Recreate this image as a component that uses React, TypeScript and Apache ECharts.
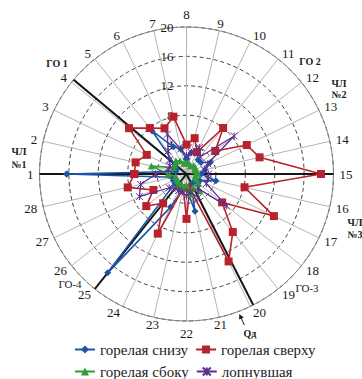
import React, { useEffect, useRef } from 'react';
import * as echarts from 'echarts';

const categories = ['1','2','3','4','5','6','7','8','9','10','11','12','13','14','15','16','17','18','19','20','21','22','23','24','25','26','27','28'];
const radiusMax = 20;
const radiusStep = 4;

const seriesNames = ['горелая снизу', 'горелая сверху', 'горелая сбоку', 'лопнувшая'];
const bottomBurner = [16.3, 1.5, 1.5, 2.0, 7.5, 4.1, 3.5, 2.0, 3.0, 3.3, 2.5, 2.5, 3.6, 2.6, 2.0, 4.1, 2.0, 2.0, 1.5, 1.5, 5.2, 2.0, 2.0, 5.0, 17.2, 2.0, 2.0, 2.0];
const topBurner = [7.1, 7.1, 6.0, 10.0, 8.0, 6.9, 8.0, 4.0, 5.0, 3.3, 8.0, 5.0, 9.1, 10.2, 18.3, 8.1, 13.2, 6.2, 10.1, 13.2, 2.0, 6.1, 2.0, 9.0, 5.1, 7.0, 5.0, 8.2];
const sideBurner = [2.5, 4.9, 2.0, 2.0, 2.3, 2.0, 1.5, 1.5, 1.5, 1.2, 1.5, 1.5, 1.2, 1.5, 1.5, 1.2, 1.5, 2.0, 2.9, 2.0, 2.8, 1.5, 2.0, 1.5, 2.0, 1.5, 1.5, 1.5];
const burst = [4.2, 2.5, 2.5, 3.0, 4.0, 6.0, 3.5, 2.5, 3.0, 4.0, 3.0, 8.3, 3.2, 2.5, 3.0, 3.0, 3.0, 7.0, 2.5, 3.6, 2.5, 3.0, 2.5, 2.5, 2.5, 3.0, 7.1, 6.4];

// reference lines: position on the category circle and length in radius units
const refLinePositions = [4.1, 25.0, 19.9];
const refLineLengths = [26.7, 24.6, 23.1];
const axisLinePositions = [1, 15];
const axisLineLengths = [23.1, 21.3];

const colors = ['#1d55a5', '#b8222c', '#2f9e3a', '#5b2f92'];
const symbols = ['diamond', 'rect', 'triangle', 'path://M0 0L10 10M10 0L0 10M5 0L5 10'];
const symbolSizes = [7, 8, 7, 7];

const N = categories.length;
const toAngle = (pos: number) => (((pos - 8) % N) + N) % N;

const serif = 'Liberation Serif';

export default function App() {
  const ref = useRef<HTMLDivElement>(null);
  useEffect(() => {
    if (!ref.current) return;
    const chart = echarts.init(ref.current, null, { renderer: 'svg' });
    const seriesData = [bottomBurner, topBurner, sideBurner, burst];

    const dataSeries = seriesData.map((vals, si) => {
      const pts = vals.map((v, i) => [v, toAngle(i + 1)]);
      pts.push(pts[0]);
      return {
        name: seriesNames[si],
        type: 'line',
        coordinateSystem: 'polar',
        data: pts,
        symbol: symbols[si],
        symbolSize: symbolSizes[si],
        lineStyle: { color: colors[si], width: si === 3 ? 1.3 : 1.6 },
        itemStyle: si === 3
          ? { color: colors[si], borderColor: colors[si], borderWidth: 1 }
          : { color: colors[si] },
        z: 3 + si,
        silent: true,
        clip: false,
      };
    });

    const refSeries = refLinePositions.map((p, i) => ({
      type: 'line',
      coordinateSystem: 'polar',
      data: [[0, 0], [refLineLengths[i], toAngle(p)]],
      symbol: 'none',
      lineStyle: { color: '#151515', width: 2 },
      clip: false,
      silent: true,
      z: 2,
    }));
    const horizSeries = {
      type: 'line',
      coordinateSystem: 'polar',
      data: [[axisLineLengths[0], toAngle(axisLinePositions[0])], [0, 0], [axisLineLengths[1], toAngle(axisLinePositions[1])]],
      symbol: 'none',
      lineStyle: { color: '#151515', width: 2 },
      clip: false,
      silent: true,
      z: 2,
    };

    const txt = (text: string, x: number, y: number, size: number, bold = true) => ({
      type: 'text',
      x,
      y,
      z: 20,
      style: {
        text,
        fill: '#1a1a1a',
        font: `${bold ? 'bold ' : ''}${size}px 'Liberation Serif'`,
        textAlign: 'center',
        textVerticalAlign: 'middle',
      },
    });

    const legendBase = {
      left: 74,
      padding: 0,
      itemWidth: 20,
      itemHeight: 10,
      itemGap: 7,
      textStyle: { fontFamily: serif, fontSize: 15, color: '#1a1a1a' },
      selectedMode: false,
    };

    const labelFont = { fontFamily: serif, fontSize: 13, color: '#1a1a1a' };

    chart.setOption({
      animation: false,
      backgroundColor: '#ffffff',
      textStyle: { fontFamily: serif },
      polar: { center: [186.5, 174], radius: 147 },
      angleAxis: {
        type: 'value',
        min: 0,
        max: N,
        interval: 1,
        startAngle: 90,
        clockwise: true,
        axisLine: { show: true, lineStyle: { color: '#8a8a8a', width: 1 } },
        axisTick: { show: false },
        axisLabel: {
          margin: 6,
          ...labelFont,
          formatter: (v: number) => {
            if (v >= N) return '';
            const name = categories[(v + 7) % N];
            const s = Math.abs(Math.sin(((90 - (v * 360) / N) * Math.PI) / 180));
            return s >= 0.3 && s < 0.99 ? `{c|${name}}` : `{n|${name}}`;
          },
          rich: {
            c: { ...labelFont, lineHeight: 2 },
            n: { ...labelFont },
          },
        },
        splitLine: { show: true, lineStyle: { color: '#b4b4b4', width: 1 } },
      },
      radiusAxis: {
        type: 'value',
        min: 0,
        max: radiusMax,
        interval: radiusStep,
        axisLine: { show: true, lineStyle: { color: '#b4b4b4', width: 1 } },
        axisTick: { show: false },
        axisLabel: { margin: 13, ...labelFont },
        splitLine: { show: true, lineStyle: { color: '#2a2a2a', width: 0.9, type: [4, 3] } },
      },
      legend: [
        { ...legendBase, top: 342, data: [seriesNames[0], seriesNames[1]] },
        { ...legendBase, top: 364, data: [seriesNames[2], seriesNames[3]] },
      ],
      graphic: [
        txt('ГО 1', 57, 63, 10),
        txt('ГО 2', 310, 61, 10),
        txt('ЧЛ', 339, 83, 10),
        txt('№2', 339, 94, 10),
        txt('ЧЛ', 19, 151, 10),
        txt('№1', 19, 164, 10),
        txt('ЧЛ', 355, 222, 10),
        txt('№3', 355, 234, 10),
        txt('ГО-4', 70, 284, 11, false),
        txt('ГО-3', 307, 288, 11, false),
        txt('Qд', 250, 333, 10),
        {
          type: 'line',
          z: 20,
          shape: { x1: 244.3, y1: 325, x2: 240.5, y2: 316.5 },
          style: { stroke: '#1a1a1a', lineWidth: 1 },
        },
        {
          type: 'polygon',
          z: 20,
          shape: { points: [[239.3, 314], [243.7, 317.5], [239.1, 319.6]] },
          style: { fill: '#1a1a1a' },
        },
      ],
      series: [...refSeries, horizSeries, ...dataSeries],
    });
    return () => chart.dispose();
  }, []);
  return <div ref={ref} style={{ position: 'absolute', left: 0, top: 0, width: 362, height: 379 }} />;
}
